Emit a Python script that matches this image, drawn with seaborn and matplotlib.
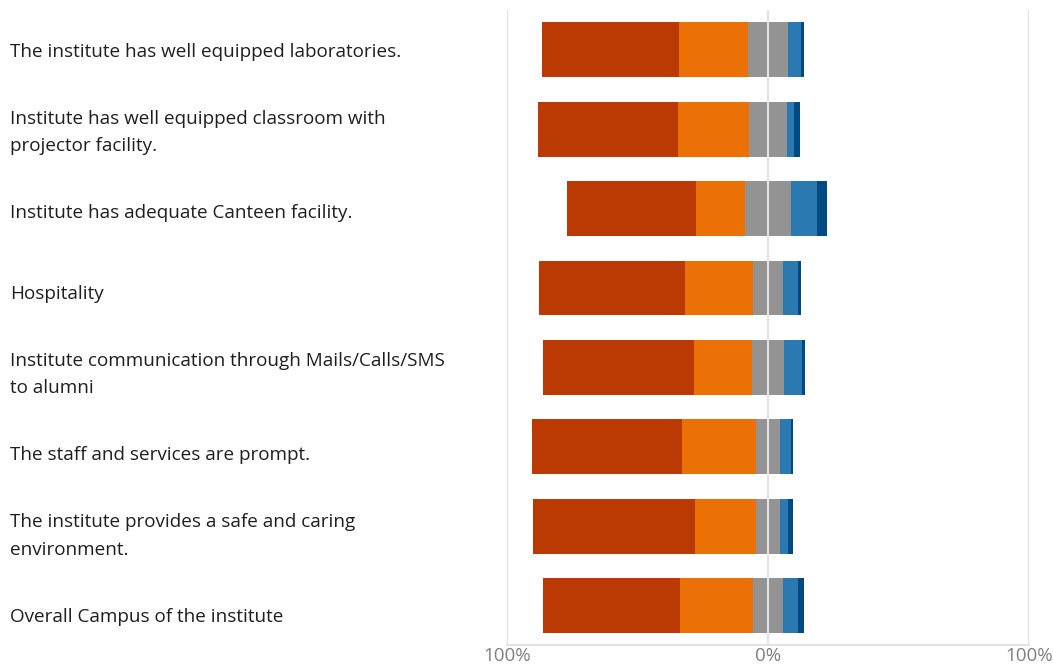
import pandas as pd
import matplotlib.pyplot as plt
import matplotlib.transforms as mtransforms
import seaborn as sns

statements = [
    "The institute has well equipped laboratories.",
    "Institute has well equipped classroom with\nprojector facility.",
    "Institute has adequate Canteen facility.",
    "Hospitality",
    "Institute communication through Mails/Calls/SMS\nto alumni",
    "The staff and services are prompt.",
    "The institute provides a safe and caring\nenvironment.",
    "Overall Campus of the institute",
]

# shares of responses (%), left to right
excellent = [52.2, 53.4, 49.5, 55.7, 57.6, 57.6, 62.2, 52.6]
good = [26.5, 27.3, 18.8, 26.1, 22.3, 28.4, 23.4, 28.0]
average = [15.4, 14.6, 17.7, 11.5, 12.3, 9.2, 9.2, 11.5]
poor = [5.0, 2.7, 10.0, 5.8, 6.9, 4.2, 3.1, 5.8]
very_poor = [1.2, 2.3, 3.8, 1.2, 1.2, 0.8, 1.9, 2.3]

colors = {
    "excellent": "#BB3902",
    "good": "#EB7006",
    "average": "#939393",
    "poor": "#2B79B1",
    "very_poor": "#004A84",
}

df = pd.DataFrame({
    "Statement": statements,
    "excellent": excellent,
    "good": good,
    "average": average,
    "poor": poor,
    "very_poor": very_poor,
})

# diverging stack, centred on the middle of "average"
half = df["average"] / 2
df["red_end"] = -(half + df["good"] + df["excellent"]) / 100
df["orange_end"] = -(half + df["good"]) / 100
df["gray_left"] = -half / 100
df["gray_right"] = half / 100
df["blue_end"] = (half + df["poor"]) / 100
df["dark_end"] = (half + df["poor"] + df["very_poor"]) / 100

fig = plt.figure(figsize=(10.53, 6.68), dpi=100)
ax = fig.add_axes([0.4815, 0.034, 0.4955, 0.951])

layers = [
    ("red_end", colors["excellent"]),
    ("orange_end", colors["good"]),
    ("gray_left", colors["average"]),
    ("dark_end", colors["very_poor"]),
    ("blue_end", colors["poor"]),
    ("gray_right", colors["average"]),
]
for col, c in layers:
    sns.barplot(data=df, x=col, y="Statement", orient="h", color=c,
                saturation=1, width=0.69, linewidth=0, ax=ax)

for xv in [-1, 0, 1]:
    ax.axvline(xv, color="#e3e3e3", lw=1.5, zorder=5)

ax.set_xlim(-1, 1)
ax.set_ylim(7.5, -0.5)
ax.set_xticks([-1, 0, 1])
ax.set_xticklabels(["100%", "0%", "100%"], color="#7f7f7f",
                   fontsize=13.5, family="Open Sans")
ax.set_xlabel("")
ax.set_ylabel("")
ax.tick_params(axis="both", length=0)
ax.tick_params(axis="x", pad=1)

# category labels, left aligned at the figure edge
ax.set_yticks([])
base = mtransforms.blended_transform_factory(fig.transFigure, ax.transData)
for i, label in enumerate(statements):
    shift = mtransforms.ScaledTranslation(0, -(2 + 1.3 * i) / 100, fig.dpi_scale_trans)
    ax.text(10 / 1053, i, label, transform=base + shift, ha="left", va="center",
            fontsize=13.6, family="Open Sans", color="#1f1f1f",
            linespacing=1.65, clip_on=False)

for s in ["top", "left", "right"]:
    ax.spines[s].set_visible(False)
ax.spines["bottom"].set_color("#e3e3e3")
ax.spines["bottom"].set_linewidth(1.5)

fig.savefig("out.png", dpi=100)
